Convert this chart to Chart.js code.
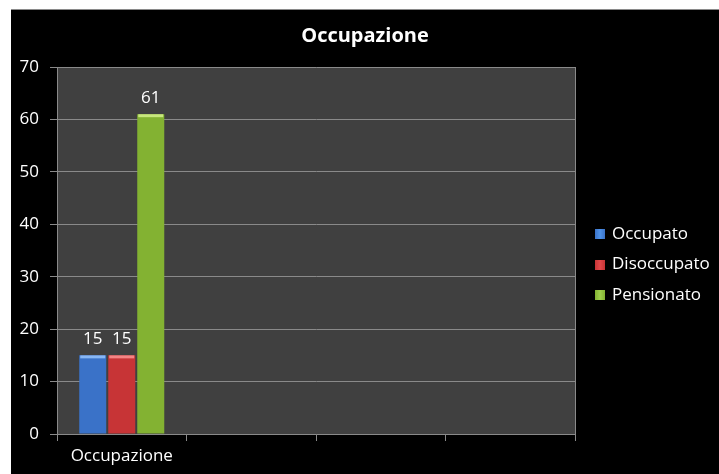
<!DOCTYPE html>
<html>
<head>
<meta charset="utf-8">
<script src="https://cdn.jsdelivr.net/npm/chart.js@4/dist/chart.umd.min.js"></script>
<style>
  html, body { margin: 0; padding: 0; background: #fff; }
  #box {
    position: absolute; left: 11px; top: 9px;
    width: 708px; height: 465px;
    background: #000;
    border-top: 1px solid #8a8a8a;
    box-sizing: border-box;
  }
  #chart { display: block; }
</style>
</head>
<body>
<div id="box"><canvas id="chart" width="708" height="464"></canvas></div>
<script>
// categorie (solo la prima ha valori, le altre restano vuote sull'asse)
const categorie = ['Occupazione', '', '', ''];

const occupato    = [15, null, null, null];
const disoccupato = [15, null, null, null];
const pensionato  = [61, null, null, null];

const serieNomi = ['Occupato', 'Disoccupato', 'Pensionato'];
// colori: [bordo scuro, centro chiaro, riflesso in alto]
const serieColori = [
  ['#3a72c8', '#4f92e8', '#9cc8ff'],
  ['#c73436', '#e2494b', '#ff9a9a'],
  ['#83b232', '#a0d04e', '#d8f490']
];

const tickY = [0, 10, 20, 30, 40, 50, 60, 70];

const FONT = '"Open Sans", "Noto Sans", sans-serif';
const GRIGIO = '#8a8a8a';

// sfondo e cornice dell'area del grafico
const sfondoArea = {
  id: 'sfondoArea',
  beforeDraw(chart) {
    const { ctx, chartArea: a } = chart;
    ctx.save();
    ctx.fillStyle = '#404040';
    ctx.fillRect(a.left, a.top, a.right - a.left, a.bottom - a.top);
    ctx.restore();
  },
  afterDraw(chart) {
    const { ctx, chartArea: a } = chart;
    ctx.save();
    ctx.strokeStyle = GRIGIO;
    ctx.lineWidth = 1;
    ctx.beginPath();
    ctx.moveTo(Math.round(a.right) + 0.5, a.top);
    ctx.lineTo(Math.round(a.right) + 0.5, a.bottom);
    ctx.stroke();
    ctx.restore();
  }
};

// sfumatura orizzontale sulle barre + riflesso in cima
const barreSfumate = {
  id: 'barreSfumate',
  beforeDatasetsDraw(chart) {
    const ctx = chart.ctx;
    chart.data.datasets.forEach((ds, i) => {
      const c = serieColori[i];
      chart.getDatasetMeta(i).data.forEach(el => {
        if (!Number.isFinite(el.x) || !Number.isFinite(el.y)) return;
        const x0 = el.x - el.width / 2, x1 = el.x + el.width / 2;
        const g = ctx.createLinearGradient(x0, 0, x1, 0);
        g.addColorStop(0, c[0]);
        g.addColorStop(0.45, c[1]);
        g.addColorStop(0.6, c[1]);
        g.addColorStop(1, c[0]);
        el.options.backgroundColor = g;
      });
    });
  },
  afterDatasetsDraw(chart) {
    const ctx = chart.ctx;
    ctx.save();
    chart.data.datasets.forEach((ds, i) => {
      const c = serieColori[i];
      chart.getDatasetMeta(i).data.forEach((el, j) => {
        const v = ds.data[j];
        if (v == null) return;
        const x0 = el.x - el.width / 2;
        ctx.fillStyle = c[2];
        ctx.globalAlpha = 0.8;
        ctx.fillRect(x0 + 1, el.y, el.width - 2, 3);
        ctx.globalAlpha = 1;
        // etichetta del valore
        ctx.fillStyle = '#fff';
        ctx.font = '17px ' + FONT;
        ctx.textAlign = 'center';
        ctx.textBaseline = 'middle';
        ctx.fillText(String(v), el.x, el.y - 16);
      });
    });
    ctx.restore();
  }
};

// legenda a destra
const legenda = {
  id: 'legenda',
  afterDraw(chart) {
    const ctx = chart.ctx;
    ctx.save();
    ctx.font = '17px ' + FONT;
    ctx.textBaseline = 'middle';
    ctx.textAlign = 'left';
    chart.data.datasets.forEach((ds, i) => {
      const y = 224 + i * 30.5;
      const c = serieColori[i];
      const g = ctx.createLinearGradient(584, 0, 594, 0);
      g.addColorStop(0, c[0]);
      g.addColorStop(0.5, c[1]);
      g.addColorStop(1, c[0]);
      ctx.fillStyle = g;
      ctx.fillRect(584, Math.round(y) - 5, 10, 10);
      ctx.fillStyle = '#fff';
      ctx.fillText(ds.label, 601, y);
    });
    ctx.restore();
  }
};

new Chart(document.getElementById('chart'), {
  type: 'bar',
  data: {
    labels: categorie,
    datasets: [
      { label: serieNomi[0], data: occupato },
      { label: serieNomi[1], data: disoccupato },
      { label: serieNomi[2], data: pensionato }
    ].map((d, i) => Object.assign(d, {
      backgroundColor: serieColori[i][1],
      borderWidth: 0,
      categoryPercentage: 0.672,
      barPercentage: 0.931
    }))
  },
  options: {
    responsive: false,
    animation: false,
    devicePixelRatio: 1,
    scales: {
      x: {
        grid: {
          display: true,
          drawOnChartArea: false,
          drawTicks: true,
          tickLength: 7,
          color: GRIGIO,
          offset: true
        },
        border: { display: true, color: GRIGIO },
        ticks: { color: '#fff', font: { family: FONT, size: 17 }, padding: 5, maxRotation: 0 },
        afterFit(s) { s.height = 40; }
      },
      y: {
        min: 0,
        max: 70,
        afterBuildTicks(s) { s.ticks = tickY.map(v => ({ value: v })); },
        grid: { color: GRIGIO, tickLength: 7, drawTicks: true },
        border: { display: true, color: GRIGIO },
        ticks: { color: '#fff', font: { family: FONT, size: 17 }, padding: 11 },
        afterFit(s) { s.width = 46; }
      },
      // spazio vuoto a destra riservato alla legenda
      spazioLegenda: {
        position: 'right',
        min: 0,
        max: 1,
        grid: { display: false, drawTicks: false },
        border: { display: false },
        ticks: { display: false },
        afterFit(s) { s.width = 144; }
      }
    },
    plugins: {
      legend: { display: false },
      tooltip: { enabled: false },
      title: {
        display: true,
        text: 'Occupazione',
        color: '#fff',
        font: { family: FONT, size: 20, weight: 'bold', lineHeight: 1.2 },
        padding: { top: 14, bottom: 19 }
      }
    }
  },
  plugins: [sfondoArea, barreSfumate, legenda]
});
</script>
</body>
</html>
